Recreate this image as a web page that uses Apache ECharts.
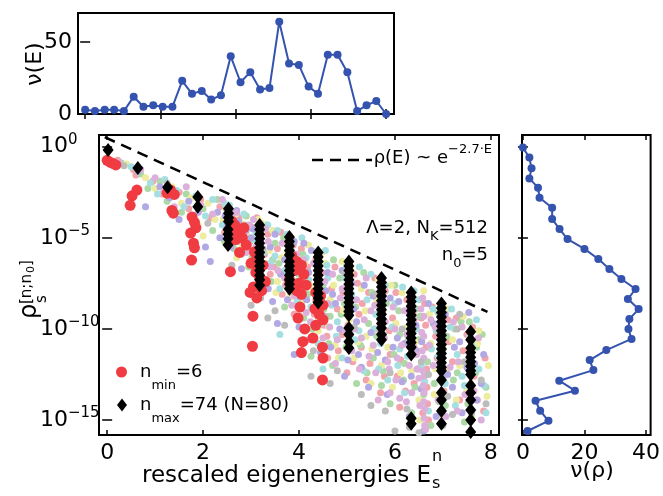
<!DOCTYPE html>
<html><head><meta charset="utf-8">
<script src="https://cdn.jsdelivr.net/npm/echarts@6/dist/echarts.min.js"></script>
<style>html,body{margin:0;padding:0;background:#fff}#c{width:663px;height:496px}</style>
</head><body><div id="c"></div>
<script>
// ---------- DATA ----------
// top histogram nu(E)
const topE = [0,0.26,0.52,0.77,1.03,1.29,1.55,1.81,2.06,2.32,2.58,2.84,3.10,3.35,3.61,3.87,4.13,4.39,4.65,4.90,5.16,5.42,5.68,5.94,6.19,6.45,6.71,6.97,7.23,7.48,7.74,8.00];
const topCounts = [3,2,3,3,2,12,5,6,5,5,23,14,16,10,13,40,22,29,17,18,64,35,34,19,14,41,41,29,2,6,9,0];
// right histogram nu(rho): bin centres as powers of ten, counts
const rhoBinExp = [-0.05,-0.60,-1.19,-1.74,-2.25,-2.80,-3.35,-3.97,-4.52,-5.07,-5.61,-6.16,-6.71,-7.26,-7.81,-8.36,-8.91,-9.46,-10.01,-10.55,-11.16,-11.71,-12.26,-12.84,-13.39,-13.94,-14.49,-15.04,-15.60];
const rhoCounts = [0,2.1,2.8,2.1,4.9,5.4,9.5,9.5,11.9,14.5,20.0,24.5,28.1,32.0,36.6,34.1,37.6,34.6,34.3,35.3,27.1,21.7,22.9,11.8,16.9,4.1,5.6,8.3,1.5];
// fitted envelope rho(E) ~ e^{-2.7E}: [E, log10 rho]
const fitLine = [[-0.05,0.52],[7.93,-9.07]];
// scatter points [E, log10 rho]
const pinkPts = [[0.22,-0.75],[0.55,-1.25],[0.95,-1.9],[1.15,-2.6],[1.5,-2.5],[1.7,-3.4],[1.95,-2.9],[2.15,-3.9],[2.35,-3.3],[2.45,-4.7],[2.75,-3.9],[2.85,-5.4],[3.0,-4.4],[3.1,-6.2],[3.35,-4.8],[3.4,-7.0],[3.55,-5.6],[3.65,-8.1],[3.8,-6.4],[3.9,-9.2],[4.05,-5.6],[4.12,-7.3],[4.2,-10.6],[4.35,-6.2],[4.45,-8.2],[4.52,-9.8],[4.6,-11.6],[4.75,-6.6],[4.8,-8.9],[4.9,-10.3],[5.0,-12.4],[5.15,-7.0],[5.25,-9.2],[5.3,-11.0],[5.4,-12.8],[5.45,-8.0],[5.6,-10.0],[5.7,-13.5],[5.8,-7.9],[5.9,-11.4],[5.95,-9.4],[6.05,-12.6],[6.1,-14.3],[6.25,-8.4],[6.3,-10.9],[6.4,-13.0],[6.55,-9.4],[6.62,-8.6],[6.64,-9.8],[6.65,-11.0],[6.66,-12.2],[6.67,-13.2],[6.68,-14.1],[6.7,-15.0],[6.85,-10.4],[6.95,-12.8],[7.1,-9.5],[7.2,-11.8],[7.35,-13.9],[7.5,-10.3],[7.65,-12.6],[7.85,-14.5],[0.6,-1.55],[1.3,-2.2],
[2.52,-3.7],[2.62,-5.3],[2.78,-4.6],[2.98,-5.2],[3.12,-3.9],[3.28,-5.9],[3.48,-6.6],[3.62,-4.7],[3.72,-7.6],[3.88,-5.4],[4.02,-8.4],[4.18,-6.6],[4.32,-9.2],[4.48,-6.9],[4.58,-10.4],[4.68,-7.8],[4.82,-11.2],[4.92,-8.0],[5.02,-9.8],[5.12,-11.8],[5.22,-7.5],[5.32,-8.6],[5.48,-11.9],[5.58,-7.2],[5.68,-9.4],[5.78,-12.6],[5.88,-10.1],[6.02,-8.0],[6.12,-11.7],[6.22,-13.4],[6.38,-9.2],[6.48,-12.2],[6.58,-14.6],[6.78,-8.8],[6.88,-11.6],[7.02,-13.4],[7.12,-10.7],[7.28,-9.4],[7.42,-11.2],[7.62,-9.9],[7.72,-13.9],[7.88,-11.6]];
const greenPts = [[0.3,-0.9],[0.7,-1.5],[0.85,-2.3],[1.1,-1.9],[1.25,-3.0],[1.4,-2.7],[1.65,-2.6],[1.8,-3.9],[2.0,-3.4],[2.2,-4.6],[2.3,-2.9],[2.55,-4.0],[2.65,-5.6],[2.9,-3.8],[2.95,-6.6],[3.2,-4.6],[3.25,-7.7],[3.5,-5.3],[3.6,-6.9],[3.7,-8.8],[3.85,-5.1],[4.0,-7.0],[4.1,-9.4],[4.25,-11.5],[4.4,-5.9],[4.5,-7.6],[4.65,-9.3],[4.7,-12.0],[4.85,-7.2],[4.95,-8.6],[5.05,-10.8],[5.2,-13.0],[5.35,-6.9],[5.45,-9.7],[5.55,-11.6],[5.65,-8.7],[5.75,-12.3],[5.9,-14.1],[6.0,-7.6],[6.1,-10.3],[6.2,-11.9],[6.35,-14.6],[6.45,-8.9],[6.5,-10.6],[6.6,-13.6],[6.75,-15.3],[6.9,-9.1],[7.0,-11.1],[7.05,-14.2],[7.25,-10.0],[7.3,-12.4],[7.45,-15.1],[7.55,-9.6],[7.7,-11.0],[7.9,-13.2],[1.55,-3.6],[2.45,-5.2],[3.45,-6.2],
[2.48,-3.4],[2.58,-4.6],[2.72,-5.2],[2.88,-4.3],[3.02,-6.1],[3.14,-5.3],[3.32,-4.3],[3.42,-7.4],[3.58,-6.4],[3.68,-5.0],[3.82,-8.0],[3.92,-6.5],[4.08,-5.9],[4.18,-8.1],[4.28,-10.0],[4.42,-7.0],[4.52,-8.9],[4.62,-10.8],[4.72,-6.2],[4.88,-9.2],[4.98,-11.0],[5.08,-7.4],[5.18,-8.8],[5.28,-10.9],[5.42,-12.4],[5.52,-8.0],[5.62,-10.4],[5.72,-13.1],[5.82,-8.6],[5.98,-11.4],[6.08,-9.0],[6.18,-12.8],[6.28,-10.6],[6.42,-13.2],[6.52,-9.3],[6.68,-11.8],[6.82,-13.0],[6.92,-14.0],[7.08,-10.4],[7.22,-12.8],[7.38,-9.6],[7.52,-14.1],[7.68,-12.4],[7.82,-10.3]];
const yellowPts = [[0.4,-0.95],[0.8,-1.7],[1.0,-2.3],[1.35,-2.2],[1.55,-3.1],[1.75,-2.8],[1.9,-4.3],[2.1,-3.1],[2.25,-4.0],[2.5,-3.5],[2.6,-4.9],[2.8,-4.2],[3.0,-5.7],[3.15,-4.0],[3.3,-6.4],[3.45,-4.6],[3.55,-7.4],[3.75,-5.8],[3.8,-8.3],[3.95,-6.8],[4.05,-8.6],[4.2,-5.4],[4.3,-7.9],[4.4,-10.1],[4.55,-6.4],[4.65,-8.4],[4.75,-10.9],[4.9,-6.3],[5.05,-9.5],[5.15,-11.6],[5.3,-7.8],[5.4,-10.4],[5.5,-13.0],[5.65,-7.3],[5.75,-9.0],[5.85,-11.0],[5.95,-13.2],[6.15,-8.0],[6.25,-9.9],[6.35,-12.3],[6.5,-13.9],[6.6,-7.9],[6.75,-10.8],[6.85,-12.2],[6.95,-14.7],[7.1,-8.9],[7.2,-10.6],[7.35,-12.0],[7.5,-13.3],[7.6,-14.8],[7.75,-10.1],[7.95,-12.0],[2.0,-4.9],[2.7,-6.1],
[2.42,-4.0],[2.68,-3.7],[2.82,-5.5],[2.92,-4.9],[3.08,-6.6],[3.22,-4.2],[3.38,-5.7],[3.52,-8.0],[3.64,-6.1],[3.78,-5.1],[3.92,-7.4],[4.02,-9.3],[4.12,-6.4],[4.22,-7.6],[4.38,-9.6],[4.48,-5.8],[4.62,-9.9],[4.72,-7.6],[4.82,-11.6],[4.92,-9.0],[5.08,-6.8],[5.22,-10.7],[5.38,-9.0],[5.52,-11.1],[5.62,-8.4],[5.72,-12.0],[5.92,-7.6],[6.02,-9.7],[6.12,-12.4],[6.32,-8.7],[6.42,-10.7],[6.52,-15.0],[6.72,-9.2],[6.82,-13.6],[6.98,-11.0],[7.08,-12.3],[7.28,-13.9],[7.42,-9.3],[7.58,-11.7],[7.72,-10.8],[7.92,-13.7]];
const cyanPts = [[0.5,-1.1],[0.9,-2.0],[1.05,-2.6],[1.2,-1.8],[1.45,-2.4],[1.6,-3.3],[1.85,-2.7],[2.05,-3.8],[2.2,-2.9],[2.4,-4.3],[2.55,-3.2],[2.75,-5.0],[2.85,-3.7],[3.05,-5.1],[3.2,-6.8],[3.35,-4.3],[3.5,-6.0],[3.6,-7.8],[3.75,-4.8],[3.9,-6.0],[4.0,-8.1],[4.15,-6.1],[4.25,-8.8],[4.4,-10.8],[4.55,-5.7],[4.6,-7.2],[4.8,-9.6],[4.9,-11.6],[5.0,-6.5],[5.1,-8.1],[5.25,-10.1],[5.35,-12.3],[5.5,-7.0],[5.6,-9.2],[5.7,-10.8],[5.85,-12.8],[6.0,-8.6],[6.1,-11.1],[6.2,-13.5],[6.4,-7.9],[6.45,-10.0],[6.55,-12.0],[6.7,-14.5],[6.8,-8.9],[6.9,-11.5],[7.05,-13.0],[7.15,-9.9],[7.3,-11.4],[7.45,-13.1],[7.6,-10.9],[7.75,-12.2],[7.9,-14.6],[3.6,-10.3],[4.5,-12.2],
[2.45,-3.1],[2.62,-4.2],[2.8,-4.5],[2.94,-5.6],[3.1,-4.7],[3.26,-5.8],[3.4,-6.4],[3.55,-4.6],[3.7,-6.8],[3.84,-5.7],[3.96,-8.5],[4.06,-5.0],[4.2,-7.3],[4.34,-8.0],[4.46,-9.7],[4.58,-6.5],[4.68,-8.7],[4.78,-10.4],[4.96,-7.2],[5.06,-9.0],[5.16,-10.6],[5.26,-6.6],[5.42,-8.4],[5.56,-10.0],[5.66,-12.2],[5.8,-7.6],[5.94,-9.9],[6.06,-12.0],[6.16,-7.7],[6.26,-11.5],[6.36,-9.6],[6.5,-8.4],[6.62,-12.9],[6.76,-11.1],[6.86,-10.1],[7.0,-12.6],[7.18,-8.9],[7.26,-14.2],[7.4,-12.6],[7.56,-10.4],[7.7,-9.5],[7.86,-13.1]];
const lavenderPts = [[0.65,-1.35],[0.8,-3.3],[1.1,-2.2],[1.3,-2.8],[1.5,-4.0],[1.7,-3.0],[1.9,-3.6],[2.05,-5.5],[2.15,-6.3],[2.3,-3.6],[2.5,-4.4],[2.7,-3.5],[2.8,-6.7],[3.0,-5.0],[3.15,-7.3],[3.4,-5.5],[3.45,-8.5],[3.55,-9.7],[3.7,-6.2],[3.85,-7.7],[4.0,-9.9],[4.1,-5.3],[4.2,-6.9],[4.35,-9.0],[4.45,-11.3],[4.6,-6.9],[4.7,-8.1],[4.85,-10.0],[4.95,-12.6],[5.1,-7.5],[5.2,-9.6],[5.3,-12.1],[5.45,-13.2],[5.55,-8.2],[5.7,-10.3],[5.8,-11.7],[5.9,-8.3],[6.05,-10.5],[6.15,-12.9],[6.3,-14.8],[6.45,-11.2],[6.55,-13.3],[6.6,-15.6],[6.8,-9.7],[6.95,-11.9],[7.05,-9.2],[7.2,-13.2],[7.35,-10.7],[7.5,-12.1],[7.7,-13.9],[7.85,-11.4],[3.9,-11.4],[2.35,-5.0],
[2.46,-3.8],[2.58,-5.5],[2.74,-4.1],[2.9,-4.6],[3.04,-4.5],[3.2,-6.2],[3.36,-7.8],[3.5,-4.8],[3.62,-7.0],[3.76,-8.4],[3.9,-5.2],[4.04,-6.9],[4.16,-8.4],[4.26,-5.7],[4.4,-7.6],[4.56,-7.9],[4.66,-11.0],[4.76,-8.6],[4.9,-6.8],[5.02,-11.7],[5.14,-8.9],[5.24,-11.4],[5.36,-7.6],[5.5,-10.2],[5.64,-11.3],[5.74,-7.8],[5.84,-13.6],[5.96,-11.0],[6.08,-8.5],[6.2,-10.8],[6.34,-12.6],[6.44,-9.8],[6.56,-10.7],[6.7,-8.6],[6.86,-14.8],[6.94,-10.6],[7.1,-12.5],[7.24,-11.0],[7.4,-14.6],[7.54,-9.1],[7.66,-11.9],[7.8,-13.0]];
const orchidPts = [[0.25,-0.85],[0.7,-1.25],[1.0,-1.7],[1.4,-3.3],[1.65,-2.2],[1.95,-3.2],[2.2,-3.7],[2.4,-2.9],[2.6,-3.8],[2.65,-4.5],[2.85,-4.8],[3.05,-4.0],[3.1,-5.5],[3.3,-4.5],[3.4,-6.6],[3.65,-5.3],[3.7,-7.2],[3.85,-8.7],[3.95,-5.9],[4.05,-7.6],[4.15,-9.1],[4.3,-6.4],[4.35,-8.4],[4.5,-10.5],[4.6,-8.6],[4.7,-7.0],[4.8,-10.6],[4.9,-7.8],[5.0,-9.0],[5.1,-11.2],[5.2,-8.4],[5.3,-10.5],[5.4,-7.2],[5.5,-9.0],[5.55,-10.9],[5.6,-12.4],[5.65,-13.9],[5.75,-8.2],[5.8,-9.6],[5.85,-11.8],[5.9,-13.5],[6.0,-10.0],[6.05,-11.6],[6.1,-13.8],[6.2,-9.0],[6.25,-10.3],[6.3,-12.0],[6.35,-13.5],[6.4,-9.5],[6.45,-11.4],[6.5,-12.7],[6.52,-14.2],[6.58,-8.3],[6.6,-9.3],[6.6,-10.4],[6.6,-11.6],[6.61,-12.6],[6.61,-13.5],[6.62,-14.4],[6.62,-15.3],[6.75,-9.5],[6.8,-12.0],[6.9,-13.9],[7.0,-10.1],[7.15,-12.1],[7.3,-14.5],[7.4,-9.9],[7.55,-11.5],[7.65,-13.4],[7.8,-15.0],[1.2,-2.4],[2.9,-5.8],[3.2,-5.0],
[2.5,-4.9],[2.7,-3.6],[2.96,-4.3],[3.16,-6.5],[3.36,-5.2],[3.56,-6.8],[3.8,-4.9],[3.9,-8.2],[4.1,-6.2],[4.24,-9.6],[4.4,-6.8],[4.54,-7.4],[4.64,-9.9],[4.76,-11.9],[4.86,-8.3],[4.96,-10.1],[5.06,-7.1],[5.16,-10.0],[5.26,-12.2],[5.36,-9.5],[5.46,-11.5],[5.58,-8.7],[5.7,-9.0],[5.78,-10.5],[5.88,-12.2],[5.96,-8.8],[6.02,-12.8],[6.14,-10.9],[6.24,-14.0],[6.3,-8.8],[6.4,-11.0],[6.46,-12.2],[6.54,-8.9],[6.56,-10.2],[6.57,-11.2],[6.58,-12.3],[6.59,-13.1],[6.6,-14.0],[6.61,-14.9],[6.64,-15.5],[6.72,-10.9],[6.84,-9.9],[6.96,-12.4],[7.06,-14.8],[7.22,-9.6],[7.32,-11.8],[7.46,-13.6],[7.6,-12.3],[7.74,-10.5]];
const grayPts = [[0.35,-1.05],[1.25,-2.0],[2.1,-4.2],[2.6,-6.5],[3.0,-8.7],[3.25,-5.6],[3.5,-9.0],[3.95,-7.4],[4.1,-10.6],[4.55,-9.3],[4.95,-6.9],[5.15,-9.9],[5.3,-13.6],[5.6,-8.1],[5.8,-14.5],[6.0,-15.6],[6.15,-10.0],[6.3,-15.4],[6.55,-11.8],[6.9,-10.2],[7.1,-13.7],[7.3,-10.0],[7.45,-11.8],[7.6,-14.6],[7.8,-12.8],[3.35,-9.4],[4.25,-12.6],
[2.8,-5.9],[3.2,-8.3],[3.7,-9.8],[4.3,-11.2],[4.8,-12.3],[5.5,-14.2],[5.9,-12.4],[6.25,-14.4],[6.7,-12.5],[7.0,-15.3],[7.2,-14.7],[7.9,-14.1],[7.35,-9.2],[6.5,-15.7],[4.65,-13.0]];
const nMinPts = [[0.0,-0.75],[0.06,-0.85],[0.12,-0.92],[0.18,-1.0],[0.62,-2.38],[0.52,-2.7],[0.48,-3.22],[1.32,-2.38],[1.25,-2.55],[1.4,-2.62],[1.35,-3.5],[1.38,-3.65],[1.77,-3.86],[1.82,-4.15],[1.85,-4.45],[1.74,-4.74],[1.8,-5.3],[1.82,-5.55],[1.76,-6.22],[2.6,-4.1],[2.66,-4.3],[2.72,-4.5],[2.62,-4.7],[2.76,-4.9],[2.68,-5.1],[2.82,-5.0],[2.85,-4.45],[2.9,-5.4],[2.76,-5.8],[2.57,-6.86],[3.07,-5.78],[3.12,-6.15],[3.25,-6.5],[3.0,-6.4],[3.18,-7.2],[3.1,-6.9],[3.3,-7.4],[3.05,-7.7],[3.22,-7.9],[2.98,-8.0],[3.12,-8.3],[3.04,-9.3],[3.03,-10.95],[3.85,-6.0],[3.95,-6.3],[4.05,-6.5],[3.9,-6.8],[4.1,-7.0],[3.8,-7.3],[4.0,-7.5],[4.15,-7.6],[3.95,-7.9],[4.05,-8.1],[4.02,-8.8],[3.98,-9.4],[4.12,-10.0],[4.29,-10.5],[4.08,-10.7],[4.05,-11.3],[4.35,-8.0],[4.45,-8.2],[4.4,-8.5],[4.5,-8.7],[4.33,-8.9],[4.42,-9.2],[4.5,-9.5],[4.35,-9.8],[4.49,-11.0],[4.5,-11.6],[4.49,-12.8]];
const nMaxPts = [[0.02,-0.18],[0.64,-1.17],[1.26,-2.22],[1.89,-2.76],[1.89,-3.3],
[2.53,-3.4],[2.53,-3.65],[2.53,-3.9],[2.53,-4.1],[2.52,-4.55],[2.52,-4.8],[2.52,-5.05],[2.52,-5.4],
[3.18,-4.3],[3.18,-4.55],[3.18,-4.8],[3.18,-5.05],[3.18,-5.3],[3.18,-5.55],[3.18,-5.8],[3.18,-6.05],[3.18,-6.3],[3.18,-6.55],[3.18,-6.8],[3.18,-7.05],[3.18,-7.3],[3.18,-7.6],
[3.8,-4.95],[3.8,-5.2],[3.8,-5.45],[3.8,-5.7],[3.8,-5.95],[3.8,-6.3],[3.8,-6.55],[3.8,-6.8],[3.8,-7.05],[3.8,-7.3],[3.8,-7.55],[3.8,-7.8],
[4.4,-5.8],[4.4,-6.05],[4.4,-6.3],[4.4,-6.55],[4.4,-6.8],[4.4,-7.05],[4.4,-7.3],[4.4,-7.55],[4.4,-7.8],[4.4,-8.05],[4.4,-8.3],[4.4,-8.55],
[5.04,-6.3],[5.04,-6.55],[5.04,-6.8],[5.04,-7.05],[5.04,-7.3],[5.04,-7.55],[5.04,-7.8],[5.04,-8.05],[5.04,-8.3],[5.04,-8.55],[5.04,-8.8],[5.04,-9.05],[5.04,-9.25],[5.04,-9.95],[5.04,-10.3],[5.04,-10.7],[5.04,-11.05],
[5.72,-7.2],[5.72,-7.45],[5.72,-7.7],[5.72,-7.95],[5.72,-8.2],[5.72,-8.45],[5.72,-8.7],[5.72,-8.95],[5.72,-9.2],[5.72,-9.45],[5.72,-9.7],[5.72,-9.95],[5.72,-10.3],[5.72,-10.6],
[6.34,-8.0],[6.34,-8.25],[6.34,-8.5],[6.34,-8.75],[6.34,-9.0],[6.34,-9.25],[6.34,-9.5],[6.34,-9.75],[6.34,-10.0],[6.34,-10.25],[6.34,-10.5],[6.34,-10.75],[6.34,-11.0],[6.34,-11.4],[6.34,-14.9],[6.34,-15.2],
[6.97,-8.6],[6.97,-8.85],[6.97,-9.1],[6.97,-9.35],[6.97,-9.6],[6.97,-9.85],[6.97,-10.1],[6.97,-10.35],[6.97,-10.6],[6.97,-10.85],[6.97,-11.1],[6.97,-11.35],[6.97,-11.6],[6.97,-11.85],[6.97,-12.1],[6.97,-12.3],[6.97,-12.8],[6.97,-13.5],[6.97,-13.9],[6.97,-14.5],[6.97,-15.2],
[7.58,-10.15],[7.58,-10.6],[7.58,-11.05],[7.58,-11.3],[7.58,-11.55],[7.58,-11.8],[7.58,-12.05],[7.58,-12.3],[7.58,-12.5],[7.58,-13.1],[7.58,-13.5],[7.58,-13.9],[7.58,-14.45],[7.58,-15.0],[7.58,-15.65]];
// tick values
const mainXTicks = [0,2,4,6,8];
const topXTicks = [0,2,4,6,8];
const topYTicks = [0,50];
const rightXTicks = [0,20,40];
const logTickExp = [0,-5,-10,-15];

// ---------- CHART ----------
const FONT = 'DejaVu Sans';
const BLUE = '#3453ae';
const pw = v => Math.pow(10, v);
const toRho = arr => arr.map(p => [p[0], pw(p[1])]);
const logTicks = logTickExp.map(pw);
const yMin = pw(-15.82), yMax = pw(0.64);
const tickStyle = (vals) => ({show:true, inside:true, length:5, lineStyle:{color:'#000', width:1.5}, customValues: vals});
const noLine = {show:false};
function xAx(grid, min, max, ticks, labels, pos) {
  return {type:'value', gridIndex:grid, min, max, position:pos, axisLine:noLine, splitLine:{show:false},
    axisTick: tickStyle(ticks),
    axisLabel: labels ? {show:true, customValues: ticks, color:'#000', fontFamily:FONT, fontSize:22, margin:7} : {show:false}};
}
function yLog(grid, pos, labels) {
  return {type:'log', logBase:10, gridIndex:grid, min:yMin, max:yMax, position:pos, axisLine:noLine, splitLine:{show:false},
    axisTick: tickStyle(logTicks),
    axisLabel: labels ? {show:true, customValues: logTicks, align:'left', margin:59,
      formatter: v => { const e = Math.round(Math.log10(v)); return '{b|10}{s|' + (e < 0 ? '\u2212' + (-e) : e) + '}'; },
      rich: { b:{fontFamily:FONT, fontSize:22, color:'#000', lineHeight:28, verticalAlign:'middle'},
              s:{fontFamily:FONT, fontSize:15, color:'#000', lineHeight:14, verticalAlign:'top'} } } : {show:false}};
}
const gridBox = {show:true, borderColor:'#000', borderWidth:2, backgroundColor:'rgba(0,0,0,0)'};
const pastel = [
  ['pink', pinkPts, '#f3a4ab'], ['green', greenPts, '#acd9a6'], ['yellow', yellowPts, '#eeec9e'],
  ['cyan', cyanPts, '#a6dfe2'], ['lavender', lavenderPts, '#b2a8e4'], ['orchid', orchidPts, '#dbb1db'], ['gray', grayPts, '#bcbcbc']
];
const series = [];
series.push({type:'line', xAxisIndex:0, yAxisIndex:0, data: topE.map((e,i)=>[e, topCounts[i]]), symbol:'circle', symbolSize:8,
  lineStyle:{color:BLUE, width:2}, itemStyle:{color:BLUE}, silent:true});
pastel.forEach(p => series.push({type:'scatter', name:p[0], xAxisIndex:2, yAxisIndex:2, data: toRho(p[1]), symbolSize:7,
  itemStyle:{color:p[2], opacity:1}, silent:true}));
series.push({type:'scatter', name:'nmin', xAxisIndex:2, yAxisIndex:2, data: toRho(nMinPts), symbol:'circle', symbolSize:11, itemStyle:{color:'#ef3b41', opacity:1}, silent:true});
series.push({type:'scatter', name:'nmax', xAxisIndex:2, yAxisIndex:2, data: toRho(nMaxPts), symbol:'diamond', symbolSize:[11,14], itemStyle:{color:'#000', opacity:1}, silent:true});
series.push({type:'line', xAxisIndex:2, yAxisIndex:2, data: toRho(fitLine), symbol:'none', lineStyle:{color:'#000', width:2.5, type:[11,7]}, silent:true, z:5});
series.push({type:'line', xAxisIndex:4, yAxisIndex:4, data: rhoBinExp.map((e,i)=>[rhoCounts[i], pw(e)]), symbol:'circle', symbolSize:8,
  lineStyle:{color:BLUE, width:2}, itemStyle:{color:BLUE}, silent:true});

const T = (x, y, text, size, align, vAlign, extra) => Object.assign({type:'text', x, y, silent:true,
  style:{text, fontFamily:FONT, fontSize:size, fill:'#000', align, verticalAlign:vAlign, textAlign:align, textVerticalAlign:vAlign}}, extra||{});
const richA = {fontFamily:FONT, fontSize:18, color:'#000', fill:'#000'};
const legendRich = {w:{width:8}, n:Object.assign({lineHeight:40, verticalAlign:'middle'}, richA), s:{fontFamily:FONT, fontSize:13, color:'#000', lineHeight:22, verticalAlign:'bottom'}};

const option = {
  animation:false,
  backgroundColor:'#fff',
  grid:[
    Object.assign({left:78, top:13, width:316, height:101}, gridBox),
    Object.assign({left:99, top:135, width:400, height:300}, gridBox),
    Object.assign({left:522, top:135, width:135, height:300}, gridBox)
  ],
  xAxis:[
    xAx(0, -0.19, 8.21, topXTicks, false, 'bottom'),
    xAx(0, -0.19, 8.21, topXTicks, false, 'top'),
    xAx(1, -0.17, 8.17, mainXTicks, true, 'bottom'),
    xAx(1, -0.17, 8.17, mainXTicks, false, 'top'),
    xAx(2, -0.3, 41.5, rightXTicks, true, 'bottom'),
    xAx(2, -0.3, 41.5, rightXTicks, false, 'top')
  ],
  yAxis:[
    {type:'value', gridIndex:0, min:0, max:70, position:'left', axisLine:noLine, splitLine:{show:false}, axisTick:tickStyle(topYTicks),
      axisLabel:{show:true, customValues:topYTicks, color:'#000', fontFamily:FONT, fontSize:22, margin:6}},
    {type:'value', gridIndex:0, min:0, max:70, position:'right', axisLine:noLine, splitLine:{show:false}, axisTick:tickStyle(topYTicks), axisLabel:{show:false}},
    yLog(1, 'left', true),
    yLog(1, 'right', false),
    yLog(2, 'left', false),
    yLog(2, 'right', false)
  ],
  legend:[
    {data:['nmin'], left:116, top:363, orient:'vertical', selectedMode:false, itemWidth:11, itemHeight:11, padding:0,
      formatter: () => '{w|}{n|n}{s|min}{n|=6}', textStyle:{rich:legendRich}},
    {data:['nmax'], left:117, top:396, orient:'vertical', selectedMode:false, itemWidth:10, itemHeight:13, padding:0,
      formatter: () => '{w|}{n|n}{s|max}{n|=74 (N=80)}', textStyle:{rich:legendRich}}
  ],
  graphic:[
    T(35, 64, '\u03bd(E)', 22, 'center', 'middle', {rotation:Math.PI/2}),
    {type:'group', x:30, y:319, rotation:Math.PI/2, silent:true, children:[
      T(0, 0, '\u03c1', 24, 'left', 'middle'),
      T(15, -3, '[n;n', 15, 'left', 'middle'),
      T(46, 1, '0', 11, 'left', 'middle'),
      T(53, -3, ']', 15, 'left', 'middle'),
      T(16, 12, 's', 15, 'left', 'middle')
    ]},
    T(431, 476, 'rescaled eigenenergies E', 23, 'right', 'middle'),
    T(432, 457, 'n', 16, 'left', 'middle'),
    T(432, 484, 's', 16, 'left', 'middle'),
    T(592, 471, '\u03bd(\u03c1)', 22, 'center', 'middle'),
    {type:'line', silent:true, shape:{x1:312, y1:160, x2:372, y2:160}, style:{stroke:'#000', lineWidth:2.5, lineDash:[11,7]}},
    {type:'text', x:492, y:158, silent:true, style:{text:'{a|\u03c1(E) ~ e}{b|\u22122.7\u00b7E}', align:'right', verticalAlign:'middle', textAlign:'right', textVerticalAlign:'middle',
      rich:{a:Object.assign({lineHeight:30, verticalAlign:'middle'}, richA), b:{fontFamily:FONT, fontSize:13, fill:'#000', lineHeight:14, verticalAlign:'top'}}}},
    {type:'text', x:488, y:228, silent:true, style:{text:'{a|\u039b=2, N}{b|K}{a|=512}', align:'right', verticalAlign:'middle', textAlign:'right', textVerticalAlign:'middle',
      rich:{a:Object.assign({lineHeight:30, verticalAlign:'middle'}, richA), b:{fontFamily:FONT, fontSize:13, fill:'#000', lineHeight:16, verticalAlign:'bottom'}}}},
    {type:'text', x:488, y:255, silent:true, style:{text:'{a|n}{b|0}{a|=5}', align:'right', verticalAlign:'middle', textAlign:'right', textVerticalAlign:'middle',
      rich:{a:Object.assign({lineHeight:30, verticalAlign:'middle'}, richA), b:{fontFamily:FONT, fontSize:13, fill:'#000', lineHeight:12, verticalAlign:'bottom'}}}}
  ],
  series
};
const chart = echarts.init(document.getElementById('c'));
chart.setOption(option);
</script>
</body></html>
